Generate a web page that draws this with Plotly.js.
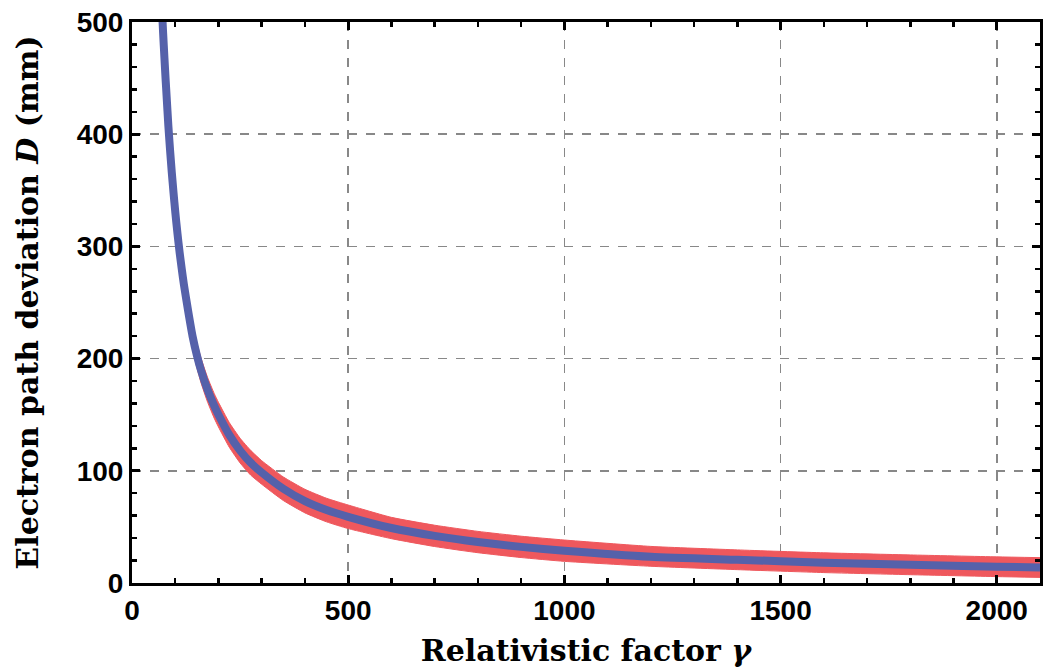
<!DOCTYPE html>
<html>
<head>
<meta charset="utf-8">
<script src="https://cdn.plot.ly/plotly-3.0.1.min.js"></script>
<style>html,body{margin:0;padding:0;background:#fff;}#chart{width:1043px;height:671px;}</style>
</head>
<body>
<div id="chart"></div>
<script>
// Relativistic factor gamma (x) and electron path deviation D in mm (y)
const gamma = [66, 68, 70, 72, 75, 78, 80, 84, 88, 92, 96, 100, 105, 110, 115, 120, 130, 140, 150, 160, 175, 190, 200, 225, 250, 275, 300, 350, 400, 450, 500, 600, 700, 800, 900, 1000, 1200, 1400, 1600, 1800, 2000, 2100];
const deviation = [540, 522, 506, 490, 468, 447, 434, 408, 386, 366, 348, 331, 312, 295, 280, 266, 242, 220, 203, 189, 172, 158, 150, 132, 118, 107, 98.5, 84, 73, 65, 59, 49, 42, 36.5, 32.2, 28.8, 23.4, 20.7, 18.1, 16.2, 14.5, 13.8];
const upperBand = [551, 533, 517, 501, 479, 458, 445, 419, 397, 377, 359, 342, 323, 306, 291, 277, 253, 231, 214, 200, 183, 169, 161, 143, 129, 118, 109, 94.5, 83.5, 75.5, 69.5, 58.5, 51.5, 46, 41.7, 38.3, 32.6, 29.5, 26.9, 25, 23.3, 22.6];
const lowerBand = [529, 511, 495, 479, 457, 436, 423, 397, 375, 355, 337, 320, 301, 284, 269, 255, 231, 209, 192, 178, 161, 147, 139, 121, 107, 96, 88, 73.5, 62.5, 54.5, 48.5, 39.5, 32.5, 27, 22.7, 19.3, 14.9, 11.9, 9.3, 7.4, 5.7, 5];
const xTickVals = [0, 500, 1000, 1500, 2000];
const xTickText = ['<b>0</b>', '<b>500</b>', '<b>1000</b>', '<b>1500</b>', '<b>2000</b>'];
const yTickVals = [0, 100, 200, 300, 400, 500];
const yTickText = ['<b>0</b>', '<b>100</b>', '<b>200</b>', '<b>300</b>', '<b>400</b>', '<b>500</b>'];

const red = '#EF585D';
const blue = '#5561AA';

const traces = [
  {x: gamma, y: lowerBand, mode: 'lines', line: {color: red, width: 1, shape: 'spline', smoothing: 0.5}, hoverinfo: 'skip', showlegend: false},
  {x: gamma, y: upperBand, mode: 'lines', line: {color: red, width: 1, shape: 'spline', smoothing: 0.5}, fill: 'tonexty', fillcolor: red, showlegend: false},
  {x: gamma, y: deviation, mode: 'lines', line: {color: blue, width: 8, shape: 'spline', smoothing: 0.6}, showlegend: false}
];

const tickFont = {family: 'Liberation Sans', size: 28, color: '#000', weight: 700};
const titleFont = {family: 'DejaVu Serif, Liberation Serif, serif', size: 30, color: '#000', weight: 700};

const layout = {
  width: 1043, height: 671,
  margin: {l: 132, r: 3, t: 22, b: 88},
  paper_bgcolor: '#fff', plot_bgcolor: '#fff',
  showlegend: false,
  xaxis: {
    range: [0, 2100], tickvals: xTickVals, ticktext: xTickText,
    ticks: 'inside', ticklen: 8, tickwidth: 3, tickcolor: '#000',
    minor: {dtick: 100, ticks: 'inside', ticklen: 5, tickwidth: 2.5, tickcolor: '#000', showgrid: false},
    showline: true, linecolor: '#000', linewidth: 3, mirror: 'allticks',
    showgrid: true, gridcolor: '#888', gridwidth: 1.5, griddash: 'dash',
    zeroline: false, tickfont: tickFont, automargin: false,
    title: {text: '<b>Relativistic factor <i>γ</i></b>', font: titleFont, standoff: 16}
  },
  yaxis: {
    range: [0, 500], tickvals: yTickVals, ticktext: yTickText,
    ticks: 'inside', ticklen: 8, tickwidth: 3, tickcolor: '#000',
    minor: {dtick: 20, ticks: 'inside', ticklen: 5, tickwidth: 2.5, tickcolor: '#000', showgrid: false},
    showline: true, linecolor: '#000', linewidth: 3, mirror: 'allticks',
    showgrid: true, gridcolor: '#888', gridwidth: 1.5, griddash: 'dash',
    zeroline: false, tickfont: tickFont, automargin: false,
    title: {text: '<b>Electron path deviation <i>D</i> (mm)</b>', font: titleFont, standoff: 30}
  }
};

Plotly.newPlot('chart', traces, layout, {displayModeBar: false, staticPlot: true});
</script>
</body>
</html>
